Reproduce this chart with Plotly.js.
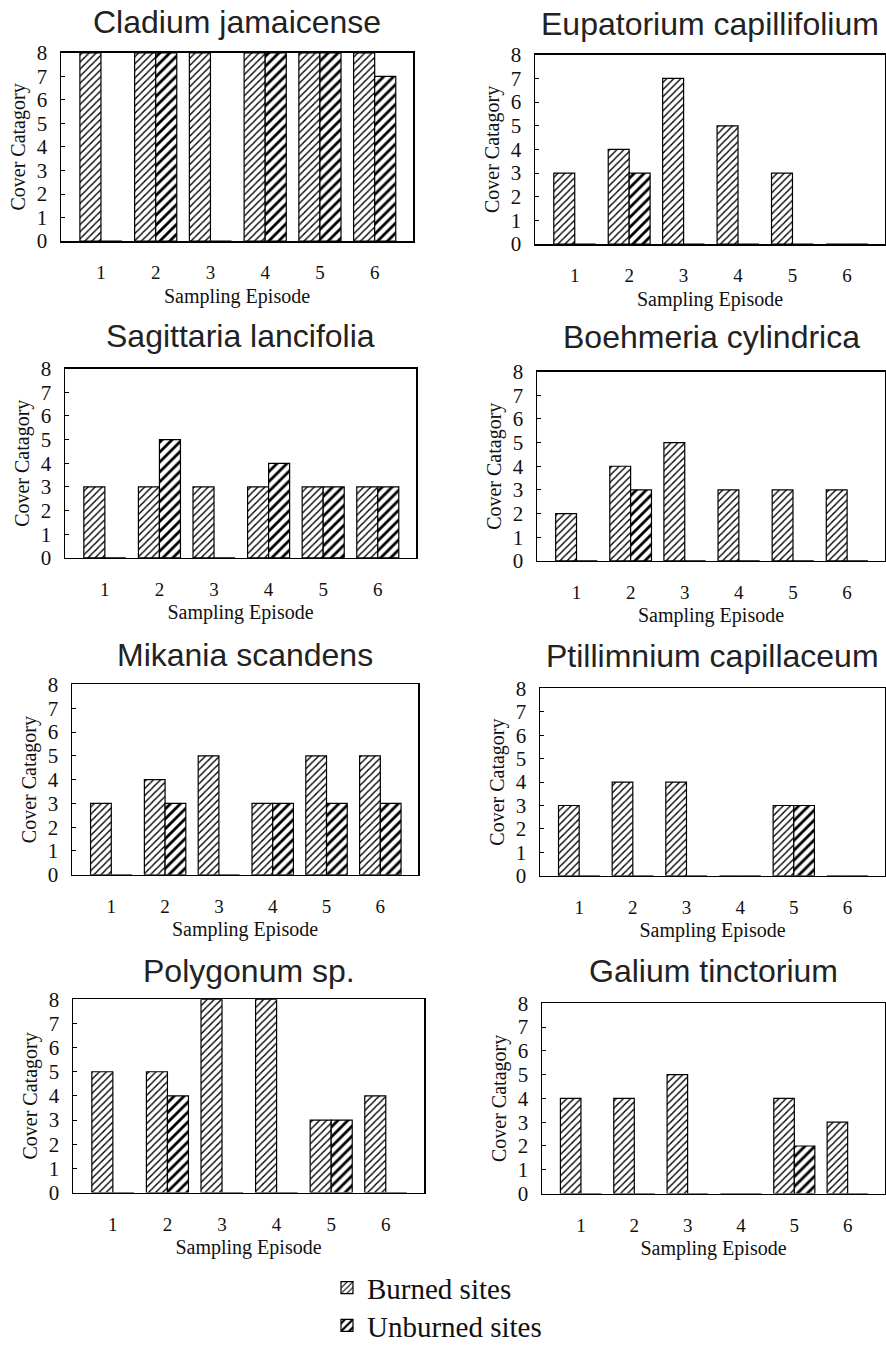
<!DOCTYPE html>
<html>
<head>
<meta charset="utf-8">
<script src="https://cdn.plot.ly/plotly-3.0.1.min.js"></script>
<style>
html,body{margin:0;padding:0;background:#fff;}
#chart{width:886px;height:1351px;}
</style>
</head>
<body>
<div id="chart"></div>
<script>
// ---- data ----
const episodes = [1, 2, 3, 4, 5, 6];
const tickLabels = ["1", "2", "3", "4", "5", "6"];
const seriesNames = ["Burned sites", "Unburned sites"];
const speciesNames = [
  "Cladium jamaicense", "Eupatorium capillifolium",
  "Sagittaria lancifolia", "Boehmeria cylindrica",
  "Mikania scandens", "Ptillimnium capillaceum",
  "Polygonum sp.", "Galium tinctorium"
];
const cladiumBurned      = [8, 8, 8, 8, 8, 8];
const cladiumUnburned    = [0, 8, 0, 8, 8, 7];
const eupatoriumBurned   = [3, 4, 7, 5, 3, 0];
const eupatoriumUnburned = [0, 3, 0, 0, 0, 0];
const sagittariaBurned   = [3, 3, 3, 3, 3, 3];
const sagittariaUnburned = [0, 5, 0, 4, 3, 3];
const boehmeriaBurned    = [2, 4, 5, 3, 3, 3];
const boehmeriaUnburned  = [0, 3, 0, 0, 0, 0];
const mikaniaBurned      = [3, 4, 5, 3, 5, 5];
const mikaniaUnburned    = [0, 3, 0, 3, 3, 3];
const ptillimniumBurned  = [3, 4, 4, 0, 3, 0];
const ptillimniumUnburned= [0, 0, 0, 0, 3, 0];
const polygonumBurned    = [5, 5, 8, 8, 3, 4];
const polygonumUnburned  = [0, 4, 0, 0, 3, 0];
const galiumBurned       = [4, 4, 5, 0, 4, 3];
const galiumUnburned     = [0, 0, 0, 0, 2, 0];

const burnedSets = [cladiumBurned, eupatoriumBurned, sagittariaBurned, boehmeriaBurned,
                    mikaniaBurned, ptillimniumBurned, polygonumBurned, galiumBurned];
const unburnedSets = [cladiumUnburned, eupatoriumUnburned, sagittariaUnburned, boehmeriaUnburned,
                      mikaniaUnburned, ptillimniumUnburned, polygonumUnburned, galiumUnburned];

// ---- layout geometry (pixels) ----
const W = 886, H = 1351;
const boxes = [
  {x0: 61,  x1: 413, y0: 53,   y1: 242,  ty: 22},
  {x0: 535, x1: 885, y0: 55,   y1: 245,  ty: 24},
  {x0: 65,  x1: 416, y0: 370,  y1: 560,  ty: 337},
  {x0: 537, x1: 885, y0: 373,  y1: 563,  ty: 338},
  {x0: 72,  x1: 418, y0: 687,  y1: 878,  ty: 657},
  {x0: 540, x1: 885, y0: 691,  y1: 879,  ty: 658},
  {x0: 73,  x1: 424, y0: 1003, y1: 1197, ty: 975},
  {x0: 542, x1: 885, y0: 1007, y1: 1198, ty: 975}
];

const serif = "Liberation Serif, Times New Roman, serif";
const sans = "Liberation Sans, Arial, sans-serif";

const burnedPattern = {shape: "/", size: 5, solidity: 0.28, fgcolor: "#000", bgcolor: "#fff", fillmode: "replace"};
const unburnedPattern = {shape: "/", size: 7, solidity: 0.4, fgcolor: "#000", bgcolor: "#fff", fillmode: "replace"};

const traces = [];
const legendFont = {family: serif, size: 29, color: "#111"};
const layout = {
  width: W, height: H,
  margin: {l: 0, r: 0, t: 0, b: 0},
  paper_bgcolor: "#fff", plot_bgcolor: "#fff",
  barmode: "group", bargap: 0.23, bargroupgap: 0,
  showlegend: true,
  annotations: [],
  legend: {
    x: 327 / W, xanchor: "left", y: 1 - 1267 / H, yanchor: "top",
    font: legendFont, bgcolor: "rgba(0,0,0,0)", borderwidth: 0, itemwidth: 30
  },
  legend2: {
    x: 327 / W, xanchor: "left", y: 1 - 1305 / H, yanchor: "top",
    font: legendFont, bgcolor: "rgba(0,0,0,0)", borderwidth: 0, itemwidth: 30
  }
};

boxes.forEach((b, i) => {
  const n = i + 1;
  const xa = n === 1 ? "x" : "x" + n;
  const ya = n === 1 ? "y" : "y" + n;
  traces.push({
    type: "bar", name: seriesNames[0], x: episodes, y: burnedSets[i],
    xaxis: xa, yaxis: ya, legend: "legend", showlegend: i === 0,
    marker: {color: "#fff", pattern: burnedPattern, line: {color: "#000", width: 1.2}},
    hoverinfo: "skip"
  });
  traces.push({
    type: "bar", name: seriesNames[1], x: episodes, y: unburnedSets[i],
    xaxis: xa, yaxis: ya, legend: "legend2", showlegend: i === 0,
    marker: {color: "#fff", pattern: unburnedPattern, line: {color: "#000", width: 1.2}},
    hoverinfo: "skip"
  });
  const xKey = n === 1 ? "xaxis" : "xaxis" + n;
  const yKey = n === 1 ? "yaxis" : "yaxis" + n;
  layout[xKey] = {
    domain: [b.x0 / W, b.x1 / W], anchor: ya,
    range: [0.27, 6.7], tickmode: "array", tickvals: episodes, ticktext: tickLabels,
    ticks: "", showgrid: false, zeroline: false,
    showline: true, mirror: true, linecolor: "#000", linewidth: 1.5,
    tickfont: {family: serif, size: 19, color: "#111"},
    ticklabelstandoff: 14,
    title: {text: "Sampling Episode", font: {family: serif, size: 20, color: "#111"}, standoff: 6}
  };
  layout[yKey] = {
    domain: [1 - b.y1 / H, 1 - b.y0 / H], anchor: xa,
    range: [0, 8], tickmode: "linear", tick0: 0, dtick: 1,
    ticks: "inside", ticklen: 4, tickcolor: "#000",
    showgrid: false, zeroline: false,
    showline: true, mirror: true, linecolor: "#000", linewidth: 1.5,
    tickfont: {family: serif, size: 21, color: "#111"},
    ticklabelstandoff: 8,
    title: {text: "Cover Catagory", font: {family: serif, size: 20, color: "#111"}, standoff: 6}
  };
  layout.annotations.push({
    text: speciesNames[i], xref: "paper", yref: "paper",
    x: (b.x0 + b.x1) / 2 / W, y: 1 - b.ty / H, xanchor: "center", yanchor: "middle",
    showarrow: false, font: {family: sans, size: 32, color: "#222"}
  });
});

Plotly.newPlot("chart", traces, layout, {staticPlot: true, displayModeBar: false});
</script>
</body>
</html>
